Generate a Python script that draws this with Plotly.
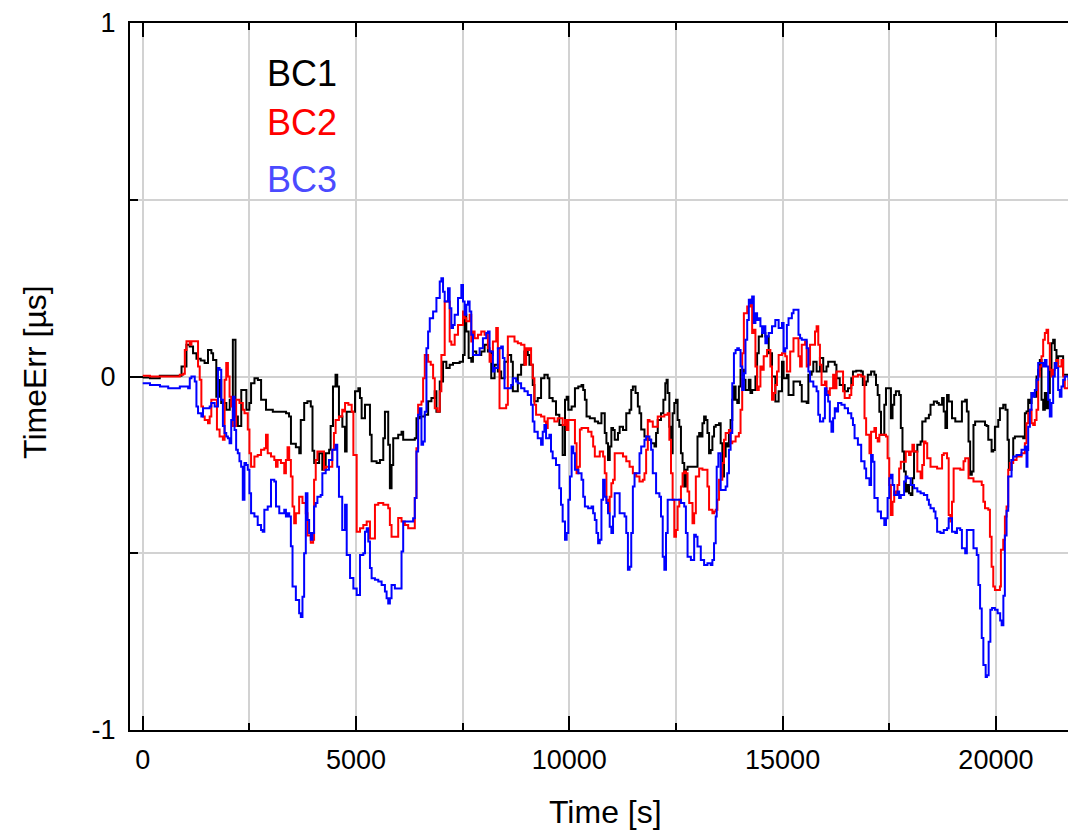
import plotly.graph_objects as go

# (time [s], TimeErr [us])
bc1_points = [
    (0, -0.003), (170, -0.005), (400, 0.002), (870, 0.002), (910, 0.028), (1025, 0.09), (1100, 0.085),
    (1180, 0.066), (1260, 0.05), (1360, 0.045), (1450, 0.038), (1530, 0.075), (1610, 0.066), (1650, 0.047),
    (1725, -0.057), (1800, -0.01), (1840, -0.075), (1960, -0.094), (2040, -0.066), (2113, 0.104),
    (2175, -0.113), (2230, -0.14), (2310, -0.038), (2390, -0.038), (2430, -0.094), (2500, -0.075),
    (2540, -0.019), (2620, -0.005), (2700, -0.01), (2775, -0.066), (2890, -0.094), (3050, -0.1),
    (3360, -0.104), (3430, -0.113), (3475, -0.19), (3590, -0.2), (3670, -0.217), (3705, -0.123),
    (3785, -0.075), (3860, -0.07), (3940, -0.085), (3980, -0.21), (4020, -0.245), (4135, -0.217),
    (4210, -0.264), (4290, -0.217), (4370, -0.207), (4405, -0.14), (4460, -0.028), (4520, 0.005),
    (4560, -0.028), (4600, -0.113), (4680, -0.142), (4743, -0.212), (4780, -0.1), (4900, -0.1),
    (4977, -0.042), (5055, -0.033), (5093, -0.061), (5132, -0.118), (5210, -0.08), (5288, -0.08),
    (5327, -0.165), (5366, -0.24), (5483, -0.245), (5560, -0.236), (5639, -0.175), (5678, -0.1),
    (5717, -0.1), (5755, -0.193), (5794, -0.316), (5833, -0.25), (5872, -0.175), (5989, -0.165),
    (6067, -0.156), (6106, -0.179), (6378, -0.175), (6417, -0.118), (6495, -0.113), (6612, -0.108),
    (6690, -0.07), (6768, -0.061), (6846, -0.042), (6885, -0.1), (6924, -0.1), (6963, -0.014),
    (7040, 0.042), (7118, 0.024), (7196, 0.033), (7274, 0.038), (7430, 0.042), (7508, 0.061),
    (7546, 0.175), (7585, 0.127), (7640, 0.052), (7702, 0.042), (7741, 0.071), (7819, 0.061),
    (7936, 0.071), (8014, 0.09), (8092, 0.071), (8170, -0.005), (8248, 0.033), (8325, 0.014),
    (8403, -0.005), (8481, 0.042), (8559, 0.061), (8637, 0.042), (8676, -0.042), (8754, -0.042),
    (8793, 0.005), (8870, 0.033), (8948, 0.071), (9026, 0.061), (9065, 0.033), (9143, -0.024),
    (9182, -0.07), (9260, -0.061), (9338, -0.005), (9416, 0.005), (9494, -0.005), (9533, -0.061),
    (9610, -0.07), (9688, -0.108), (9766, -0.137), (9844, -0.222), (9899, -0.066), (9938, -0.057),
    (9977, -0.094), (10054, -0.085), (10132, -0.033), (10210, -0.028), (10287, -0.024), (10326, -0.038),
    (10365, -0.066), (10404, -0.113), (10481, -0.118), (10598, -0.127), (10675, -0.132), (10753, -0.104),
    (10792, -0.104), (10831, -0.16), (10870, -0.189), (10908, -0.236), (10947, -0.198), (10986, -0.146),
    (11025, -0.151), (11064, -0.179), (11103, -0.179), (11141, -0.16), (11180, -0.142), (11258, -0.151),
    (11335, -0.104), (11413, -0.094), (11452, -0.038), (11490, -0.028), (11552, -0.047), (11607, -0.085),
    (11646, -0.104), (11685, -0.15), (11762, -0.17), (11840, -0.179), (11918, -0.189), (11996, -0.198),
    (12034, -0.16), (12073, -0.123), (12150, -0.104), (12205, -0.066), (12250, -0.019), (12280, -0.009),
    (12306, -0.047), (12345, -0.142), (12384, -0.217), (12422, -0.104), (12461, -0.075), (12500, -0.066),
    (12539, -0.123), (12578, -0.142), (12617, -0.217), (12655, -0.245), (12694, -0.311), (12733, -0.264),
    (12772, -0.255), (12850, -0.255), (12966, -0.255), (13005, -0.17), (13044, -0.16), (13082, -0.17),
    (13121, -0.132), (13160, -0.113), (13199, -0.123), (13238, -0.16), (13276, -0.217), (13315, -0.208),
    (13354, -0.17), (13393, -0.142), (13432, -0.137), (13510, -0.132), (13548, -0.189), (13587, -0.283),
    (13626, -0.226), (13665, -0.189), (13703, -0.198), (13742, -0.16), (13781, -0.123), (13820, -0.066),
    (13859, -0.028), (13898, -0.066), (13937, -0.075), (13975, -0.028), (14014, 0.019), (14092, -0.009),
    (14130, -0.038), (14208, -0.009), (14247, -0.047), (14286, -0.038), (14363, 0.0), (14402, 0.066),
    (14441, 0.113), (14519, 0.123), (14596, 0.113), (14674, 0.066), (14752, 0.0), (14830, -0.071),
    (14907, -0.042), (14985, 0.042), (15023, -0.005), (15100, 0.005), (15139, -0.052), (15217, -0.052),
    (15255, -0.014), (15333, -0.014), (15410, -0.024), (15449, -0.071), (15565, -0.075), (15604, 0.005),
    (15681, 0.014), (15720, 0.042), (15797, 0.014), (15875, 0.052), (15952, 0.014), (16029, 0.028),
    (16068, 0.042), (16145, 0.042), (16223, 0.033), (16262, -0.005), (16339, -0.024), (16455, -0.042),
    (16533, -0.033), (16610, -0.005), (16649, 0.014), (16726, 0.016), (16842, 0.014), (16881, -0.024),
    (16958, -0.014), (16997, 0.005), (17074, 0.014), (17152, 0.005), (17190, -0.024), (17229, -0.052),
    (17268, -0.1), (17306, -0.165), (17384, -0.08), (17423, -0.033), (17500, -0.033), (17539, -0.118),
    (17577, -0.08), (17616, -0.052), (17655, -0.042), (17732, -0.052), (17771, -0.146), (17810, -0.212),
    (17848, -0.269), (17887, -0.325), (17926, -0.307), (17964, -0.33), (18003, -0.335), (18042, -0.288),
    (18081, -0.212), (18158, -0.193), (18235, -0.184), (18274, -0.127), (18351, -0.118), (18429, -0.108),
    (18467, -0.08), (18545, -0.071), (18622, -0.075), (18661, -0.08), (18738, -0.061), (18777, -0.099),
    (18816, -0.146), (18855, -0.052), (18893, -0.071), (18971, -0.118), (19048, -0.127), (19125, -0.127),
    (19203, -0.071), (19280, -0.066), (19319, -0.099), (19358, -0.184), (19396, -0.278), (19435, -0.269),
    (19474, -0.137), (19513, -0.127), (19629, -0.127), (19745, -0.137), (19782, -0.14), (19821, -0.179),
    (19899, -0.212), (19938, -0.208), (19977, -0.142), (20055, -0.123), (20094, -0.09), (20172, -0.08),
    (20226, -0.094), (20273, -0.179), (20304, -0.264), (20367, -0.236), (20406, -0.175), (20445, -0.17),
    (20600, -0.17), (20640, -0.175), (20679, -0.104), (20718, -0.099), (20757, -0.066), (20796, -0.075),
    (20835, -0.047), (20913, -0.057), (20952, 0.0), (20991, 0.019), (21030, 0.047), (21069, -0.066),
    (21108, -0.094), (21147, -0.047), (21186, -0.09), (21225, -0.047), (21264, 0.024), (21303, 0.094),
    (21342, 0.104), (21380, 0.075), (21420, 0.038), (21459, 0.057), (21537, 0.057), (21576, 0.005),
    (21615, 0.005), (21700, 0.0),
]

bc2_points = [
    (0, 0.002), (170, 0.0), (870, 0.005), (950, 0.008), (987, 0.075), (1026, 0.1), (1103, 0.09),
    (1142, 0.1), (1259, 0.1), (1297, 0.028), (1336, -0.009), (1375, -0.085), (1414, -0.113),
    (1453, -0.123), (1530, -0.132), (1570, -0.113), (1608, -0.066), (1686, -0.066), (1740, -0.15),
    (1802, -0.17), (1880, -0.179), (1919, -0.009), (1958, 0.038), (1997, 0.0), (2036, -0.057),
    (2075, -0.085), (2113, -0.14), (2190, -0.066), (2268, -0.075), (2346, -0.094), (2385, -0.104),
    (2463, -0.15), (2502, -0.217), (2540, -0.255), (2580, -0.255), (2618, -0.226), (2696, -0.222),
    (2774, -0.207), (2851, -0.203), (2890, -0.165), (2930, -0.217), (3007, -0.226), (3085, -0.236),
    (3124, -0.255), (3162, -0.236), (3240, -0.245), (3318, -0.274), (3357, -0.236), (3395, -0.2),
    (3434, -0.236), (3473, -0.283), (3512, -0.368), (3551, -0.415), (3590, -0.387), (3667, -0.34),
    (3745, -0.358), (3823, -0.387), (3862, -0.45), (3940, -0.47), (3994, -0.462), (4017, -0.292),
    (4056, -0.236), (4095, -0.212), (4211, -0.212), (4250, -0.264), (4289, -0.255), (4366, -0.255),
    (4444, -0.207), (4483, -0.16), (4522, -0.123), (4600, -0.113), (4677, -0.094), (4716, -0.099),
    (4743, -0.075), (4821, -0.08), (4899, -0.1), (4938, -0.222), (5016, -0.439), (5094, -0.429),
    (5171, -0.42), (5250, -0.41), (5327, -0.458), (5366, -0.458), (5444, -0.363), (5522, -0.358),
    (5639, -0.363), (5755, -0.373), (5794, -0.42), (5833, -0.453), (5911, -0.453), (5989, -0.4),
    (6067, -0.41), (6145, -0.42), (6223, -0.429), (6339, -0.429), (6378, -0.344), (6417, -0.203),
    (6456, -0.08), (6534, -0.071), (6573, -0.005), (6612, 0.061), (6690, 0.042), (6752, 0.033),
    (6807, -0.005), (6846, -0.09), (6908, -0.099), (6963, -0.042), (7001, 0.061), (7079, 0.212),
    (7157, 0.212), (7196, 0.099), (7235, 0.09), (7313, 0.118), (7391, 0.146), (7508, 0.184),
    (7546, 0.165), (7585, 0.156), (7663, 0.175), (7702, 0.099), (7741, 0.127), (7780, 0.108),
    (7858, 0.118), (7936, 0.127), (8014, 0.118), (8092, 0.08), (8131, 0.042), (8170, 0.061),
    (8209, 0.099), (8287, 0.137), (8325, 0.08), (8364, -0.09), (8442, -0.09), (8520, -0.08),
    (8559, 0.113), (8637, 0.113), (8715, 0.099), (8793, 0.094), (8870, 0.09), (8948, 0.033),
    (8987, 0.08), (9026, 0.075), (9065, 0.08), (9104, 0.033), (9143, -0.005), (9182, -0.08),
    (9221, -0.108), (9338, -0.113), (9416, -0.127), (9455, -0.146), (9494, -0.118), (9571, -0.118),
    (9649, -0.127), (9727, -0.118), (9844, -0.137), (9899, -0.123), (9938, -0.151), (9977, -0.123),
    (10054, -0.123), (10132, -0.189), (10170, -0.274), (10210, -0.255), (10248, -0.15), (10287, -0.146),
    (10365, -0.146), (10442, -0.156), (10520, -0.17), (10559, -0.198), (10598, -0.226), (10675, -0.226),
    (10714, -0.212), (10792, -0.226), (10831, -0.274), (10870, -0.349), (10908, -0.382), (10947, -0.34),
    (10986, -0.302), (11025, -0.292), (11064, -0.217), (11180, -0.217), (11258, -0.226), (11335, -0.24),
    (11413, -0.255), (11490, -0.274), (11568, -0.283), (11645, -0.297), (11723, -0.292), (11762, -0.274),
    (11801, -0.207), (11840, -0.123), (11879, -0.127), (11957, -0.142), (12034, -0.142), (12073, -0.113),
    (12150, -0.113), (12228, -0.108), (12306, -0.104), (12345, -0.179), (12384, -0.274), (12422, -0.349),
    (12461, -0.453), (12500, -0.434), (12539, -0.368), (12578, -0.349), (12617, -0.311), (12655, -0.274),
    (12694, -0.269), (12733, -0.274), (12772, -0.325), (12811, -0.358), (12888, -0.415), (12927, -0.387),
    (12966, -0.283), (13044, -0.26), (13121, -0.264), (13199, -0.264), (13238, -0.311), (13276, -0.377),
    (13354, -0.387), (13393, -0.382), (13432, -0.377), (13471, -0.349), (13510, -0.292), (13548, -0.292),
    (13587, -0.245), (13626, -0.179), (13665, -0.16), (13742, -0.151), (13781, -0.189), (13820, -0.184),
    (13898, -0.17), (13975, -0.16), (14014, -0.094), (14053, 0.066), (14092, 0.179), (14170, 0.198),
    (14247, 0.217), (14286, 0.123), (14325, 0.132), (14363, 0.028), (14402, -0.038), (14441, -0.028),
    (14480, 0.028), (14519, 0.019), (14557, 0.057), (14635, 0.075), (14713, 0.028), (14752, -0.066),
    (14790, -0.047), (14830, -0.024), (14868, 0.014), (14907, 0.061), (14985, 0.066), (15062, 0.057),
    (15100, 0.014), (15139, 0.014), (15178, 0.071), (15255, 0.108), (15333, 0.108), (15372, 0.057),
    (15410, 0.028), (15449, 0.09), (15527, 0.099), (15565, 0.028), (15604, 0.033), (15643, 0.09),
    (15720, 0.09), (15759, 0.127), (15797, 0.142), (15836, 0.09), (15875, 0.033), (15913, -0.024),
    (15952, -0.024), (15991, -0.014), (16029, -0.042), (16068, -0.052), (16107, -0.033), (16184, 0.005),
    (16223, -0.033), (16262, 0.014), (16378, 0.014), (16417, -0.042), (16455, -0.061), (16533, -0.061),
    (16571, -0.052), (16610, -0.024), (16649, 0.0), (16765, 0.005), (16842, 0.0), (16920, -0.118),
    (16958, -0.165), (17036, -0.217), (17074, -0.156), (17152, -0.146), (17190, -0.174), (17229, -0.184),
    (17268, -0.165), (17345, -0.165), (17423, -0.17), (17461, -0.231), (17500, -0.307), (17539, -0.392),
    (17577, -0.354), (17616, -0.325), (17655, -0.335), (17694, -0.307), (17732, -0.26), (17771, -0.241),
    (17848, -0.241), (17887, -0.212), (17964, -0.222), (18003, -0.212), (18042, -0.193), (18081, -0.212),
    (18158, -0.269), (18235, -0.288), (18274, -0.25), (18313, -0.184), (18351, -0.189), (18390, -0.231),
    (18467, -0.255), (18545, -0.255), (18622, -0.26), (18700, -0.26), (18738, -0.222), (18777, -0.217),
    (18855, -0.231), (18893, -0.392), (18932, -0.41), (18971, -0.354), (19009, -0.26), (19048, -0.26),
    (19164, -0.264), (19241, -0.24), (19280, -0.231), (19319, -0.231), (19358, -0.288), (19435, -0.288),
    (19474, -0.297), (19551, -0.297), (19629, -0.297), (19668, -0.307), (19706, -0.354), (19745, -0.373),
    (19782, -0.373), (19821, -0.377), (19860, -0.453), (19899, -0.538), (19938, -0.594), (19977, -0.604),
    (20055, -0.604), (20094, -0.594), (20117, -0.49), (20172, -0.462), (20211, -0.396), (20250, -0.368),
    (20289, -0.264), (20328, -0.245), (20406, -0.236), (20484, -0.226), (20600, -0.217), (20679, -0.189),
    (20718, -0.132), (20757, -0.104), (20796, -0.094), (20835, -0.132), (20874, -0.137), (20913, -0.123),
    (20952, -0.094), (20991, 0.0), (21030, 0.028), (21069, 0.057), (21108, 0.104), (21147, 0.123),
    (21186, 0.132), (21225, 0.094), (21264, 0.019), (21303, 0.0), (21342, 0.019), (21380, 0.038),
    (21420, 0.047), (21459, 0.028), (21537, 0.047), (21576, 0.0), (21615, -0.033), (21700, -0.01),
]

bc3_points = [
    (0, -0.019), (170, -0.024), (404, -0.028), (598, -0.033), (715, -0.033), (870, -0.028), (1065, -0.033),
    (1103, -0.005), (1142, 0.0), (1220, -0.014), (1259, -0.085), (1297, -0.104), (1375, -0.113),
    (1414, -0.09), (1492, -0.09), (1570, -0.085), (1608, -0.075), (1686, -0.085), (1764, 0.024),
    (1802, 0.019), (1841, -0.066), (1880, -0.14), (1919, -0.16), (1958, -0.17), (1997, -0.175),
    (2036, -0.189), (2075, -0.123), (2113, -0.057), (2152, -0.151), (2190, -0.207), (2229, -0.217),
    (2268, -0.24), (2307, -0.255), (2346, -0.349), (2385, -0.245), (2424, -0.25), (2463, -0.264),
    (2502, -0.33), (2540, -0.387), (2618, -0.396), (2696, -0.42), (2774, -0.434), (2813, -0.439),
    (2851, -0.377), (2930, -0.368), (2968, -0.368), (3007, -0.292), (3085, -0.297), (3124, -0.368),
    (3201, -0.387), (3279, -0.387), (3318, -0.377), (3357, -0.396), (3395, -0.387), (3434, -0.396),
    (3473, -0.48), (3512, -0.594), (3590, -0.632), (3667, -0.67), (3706, -0.68), (3745, -0.623),
    (3784, -0.5), (3823, -0.33), (3862, -0.406), (3901, -0.443), (3940, -0.462), (3979, -0.443),
    (4017, -0.368), (4056, -0.358), (4095, -0.34), (4172, -0.335), (4211, -0.274), (4289, -0.264),
    (4366, -0.236), (4444, -0.207), (4522, -0.193), (4561, -0.255), (4600, -0.34), (4677, -0.434),
    (4743, -0.363), (4782, -0.505), (4860, -0.57), (4938, -0.6), (5016, -0.618), (5055, -0.618),
    (5093, -0.505), (5171, -0.5), (5210, -0.439), (5250, -0.429), (5288, -0.467), (5327, -0.542),
    (5366, -0.571), (5444, -0.575), (5522, -0.58), (5600, -0.59), (5678, -0.608), (5717, -0.627),
    (5755, -0.642), (5794, -0.627), (5833, -0.59), (5911, -0.6), (5989, -0.6), (6067, -0.495),
    (6106, -0.41), (6300, -0.41), (6339, -0.401), (6378, -0.344), (6417, -0.212), (6456, -0.108),
    (6495, -0.09), (6534, -0.193), (6573, -0.184), (6612, -0.1), (6651, 0.08), (6690, 0.127),
    (6729, 0.165), (6807, 0.184), (6885, 0.222), (6963, 0.269), (7001, 0.278), (7040, 0.24),
    (7079, 0.212), (7157, 0.25), (7196, 0.193), (7235, 0.137), (7274, 0.146), (7313, 0.175),
    (7391, 0.222), (7469, 0.259), (7508, 0.212), (7546, 0.175), (7585, 0.203), (7625, 0.212),
    (7663, 0.184), (7702, 0.118), (7741, 0.061), (7819, 0.061), (7897, 0.08), (7975, 0.108),
    (8053, 0.123), (8092, 0.127), (8131, 0.071), (8209, 0.014), (8248, 0.024), (8325, 0.08),
    (8403, 0.085), (8442, 0.052), (8481, -0.033), (8559, -0.033), (8637, -0.024), (8676, -0.005),
    (8754, -0.014), (8793, -0.019), (8870, -0.033), (8948, -0.042), (9026, -0.052), (9104, -0.08),
    (9143, -0.127), (9182, -0.156), (9221, -0.156), (9260, -0.175), (9338, -0.193), (9377, -0.156),
    (9416, -0.137), (9455, -0.175), (9533, -0.165), (9571, -0.212), (9610, -0.231), (9688, -0.25),
    (9766, -0.316), (9805, -0.363), (9844, -0.41), (9899, -0.462), (9938, -0.443), (9977, -0.349),
    (10016, -0.283), (10054, -0.198), (10093, -0.217), (10132, -0.264), (10210, -0.274), (10287, -0.292),
    (10326, -0.34), (10365, -0.368), (10442, -0.373), (10520, -0.368), (10559, -0.387), (10598, -0.406),
    (10637, -0.443), (10675, -0.472), (10714, -0.462), (10753, -0.349), (10792, -0.292), (10831, -0.34),
    (10870, -0.358), (10908, -0.387), (10947, -0.425), (10986, -0.443), (11025, -0.396), (11064, -0.33),
    (11141, -0.33), (11180, -0.387), (11219, -0.387), (11296, -0.396), (11335, -0.443), (11374, -0.547),
    (11413, -0.538), (11452, -0.443), (11490, -0.311), (11529, -0.274), (11568, -0.274), (11646, -0.217),
    (11685, -0.198), (11762, -0.179), (11801, -0.17), (11879, -0.179), (11918, -0.207), (11957, -0.274),
    (12034, -0.33), (12112, -0.34), (12150, -0.396), (12190, -0.51), (12228, -0.547), (12267, -0.443),
    (12306, -0.349), (12384, -0.349), (12461, -0.349), (12539, -0.349), (12617, -0.358), (12694, -0.368),
    (12733, -0.443), (12772, -0.51), (12850, -0.519), (12927, -0.448), (12966, -0.453), (13005, -0.481),
    (13082, -0.519), (13160, -0.533), (13238, -0.528), (13315, -0.533), (13354, -0.519), (13393, -0.472),
    (13432, -0.396), (13455, -0.255), (13494, -0.217), (13548, -0.321), (13587, -0.321), (13665, -0.311),
    (13703, -0.274), (13742, -0.207), (13781, -0.16), (13820, -0.019), (13859, 0.066), (13898, 0.075),
    (13937, 0.08), (13975, 0.075), (14014, 0.028), (14053, -0.038), (14092, 0.009), (14130, 0.104),
    (14170, 0.16), (14208, 0.217), (14247, 0.207), (14286, 0.226), (14325, 0.151), (14363, 0.179),
    (14402, 0.16), (14441, 0.165), (14480, 0.142), (14519, 0.123), (14557, 0.142), (14596, 0.094),
    (14635, 0.113), (14674, 0.123), (14752, 0.142), (14829, 0.16), (14868, 0.16), (14907, 0.137),
    (14985, 0.151), (15023, 0.071), (15062, 0.08), (15100, 0.146), (15139, 0.165), (15217, 0.179),
    (15255, 0.189), (15333, 0.189), (15372, 0.118), (15410, 0.108), (15449, 0.104), (15527, 0.104),
    (15565, 0.08), (15604, 0.014), (15643, -0.014), (15681, -0.014), (15720, -0.028), (15797, -0.042),
    (15836, -0.108), (15875, -0.127), (15952, -0.118), (15991, -0.033), (16029, -0.052), (16068, -0.071),
    (16107, -0.127), (16145, -0.156), (16184, -0.118), (16223, -0.09), (16262, -0.099), (16300, -0.075),
    (16378, -0.08), (16455, -0.09), (16533, -0.104), (16610, -0.118), (16649, -0.137), (16687, -0.175),
    (16765, -0.193), (16842, -0.24), (16920, -0.26), (16958, -0.288), (17036, -0.307), (17074, -0.222),
    (17113, -0.241), (17152, -0.344), (17229, -0.382), (17306, -0.401), (17384, -0.42), (17423, -0.401),
    (17461, -0.344), (17500, -0.288), (17539, -0.278), (17577, -0.307), (17616, -0.335), (17694, -0.325),
    (17732, -0.344), (17771, -0.335), (17848, -0.297), (17887, -0.283), (17926, -0.288), (18003, -0.307),
    (18081, -0.316), (18158, -0.325), (18235, -0.33), (18313, -0.335), (18390, -0.349), (18429, -0.363),
    (18467, -0.373), (18545, -0.382), (18584, -0.401), (18622, -0.439), (18700, -0.443), (18777, -0.434),
    (18855, -0.429), (18893, -0.401), (18971, -0.439), (19048, -0.443), (19087, -0.429), (19164, -0.434),
    (19203, -0.486), (19280, -0.5), (19319, -0.434), (19396, -0.434), (19474, -0.486), (19551, -0.505),
    (19590, -0.59), (19629, -0.656), (19668, -0.74), (19706, -0.816), (19760, -0.85), (19790, -0.845),
    (19830, -0.75), (19870, -0.66), (19910, -0.655), (19977, -0.66), (20040, -0.67), (20100, -0.69),
    (20135, -0.704), (20175, -0.62), (20210, -0.45), (20250, -0.38), (20289, -0.283), (20367, -0.236),
    (20406, -0.226), (20484, -0.222), (20600, -0.207), (20679, -0.198), (20718, -0.255), (20740, -0.208),
    (20757, -0.142), (20796, -0.094), (20835, -0.047), (20874, -0.057), (20913, -0.038), (20952, -0.009),
    (20991, 0.038), (21069, 0.038), (21108, 0.028), (21147, 0.047), (21186, 0.028), (21225, -0.066),
    (21264, -0.113), (21303, -0.075), (21342, 0.0), (21380, 0.038), (21420, 0.024), (21459, -0.038),
    (21498, -0.057), (21537, -0.028), (21576, -0.009), (21615, 0.0), (21700, -0.01),
]

series_names = ["BC1", "BC2", "BC3"]
line_colors = ["#000000", "#ff0000", "#0000ff"]
label_colors = ["#000000", "#ff0000", "#4b4bff"]
x_ticks = [0, 5000, 10000, 15000, 20000]
y_ticks = [-1, 0, 1]

FONT = "Liberation Sans, Arial, sans-serif"
GRID = "#d2d2d2"

fig = go.Figure()
for name, pts, col in zip(series_names, [bc1_points, bc2_points, bc3_points], line_colors):
    fig.add_trace(go.Scatter(
        x=[p[0] for p in pts], y=[p[1] for p in pts], mode="lines", name=name,
        line=dict(color=col, width=2, shape="hv"), showlegend=False,
    ))

fig.update_layout(
    width=1068, height=831,
    margin=dict(l=130, r=0, t=23, b=101),
    plot_bgcolor="white", paper_bgcolor="white",
    font=dict(family=FONT, color="black", size=27),
    showlegend=False,
)
fig.update_xaxes(
    range=[-298, 21690], tickvals=x_ticks, ticktext=[str(v) for v in x_ticks],
    ticks="inside", ticklen=14, tickwidth=2, tickcolor="black",
    showline=True, linewidth=2, linecolor="black", mirror="ticks",
    showgrid=True, gridcolor=GRID, gridwidth=2, zeroline=False,
    minor=dict(dtick=2500, tick0=0, ticks="inside", ticklen=7, tickwidth=2, tickcolor="black",
               showgrid=True, gridcolor=GRID, gridwidth=2),
    tickfont=dict(family=FONT, size=27, color="black"), ticklabelstandoff=5,
)
fig.update_yaxes(
    range=[-1, 1], tickvals=y_ticks, ticktext=[str(v) for v in y_ticks],
    ticks="inside", ticklen=13, tickwidth=2, tickcolor="black",
    showline=True, linewidth=2, linecolor="black", mirror=False,
    showgrid=True, gridcolor=GRID, gridwidth=2, zeroline=False,
    minor=dict(dtick=0.5, tick0=0, ticks="inside", ticklen=8, tickwidth=2, tickcolor="black",
               showgrid=True, gridcolor=GRID, gridwidth=2),
    tickfont=dict(family=FONT, size=27, color="black"), ticklabelstandoff=7,
)

# axis titles
fig.add_annotation(text="Time [s]", xref="paper", yref="paper", x=0.5064, y=-0.116,
                   xanchor="center", yanchor="middle", showarrow=False,
                   font=dict(family=FONT, size=32, color="black"))
fig.add_annotation(text="TimeErr [µs]", xref="paper", yref="paper", x=-0.1013, y=0.5064,
                   xanchor="center", yanchor="middle", showarrow=False, textangle=-90,
                   font=dict(family=FONT, size=32, color="black"))

# series labels (legend-like text)
label_y = [0.928, 0.8586, 0.779]
for name, col, yy in zip(series_names, label_colors, label_y):
    fig.add_annotation(text=name, xref="paper", yref="paper", x=0.1439, y=yy,
                       xanchor="left", yanchor="middle", showarrow=False,
                       font=dict(family=FONT, size=36, color=col))

fig.write_html("out.html")
